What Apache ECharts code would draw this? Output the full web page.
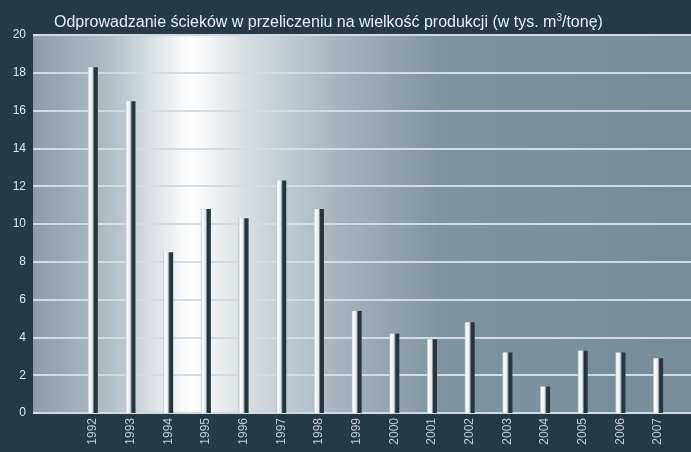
<!DOCTYPE html>
<html><head><meta charset="utf-8">
<script src="https://cdn.jsdelivr.net/npm/echarts@6/dist/echarts.min.js"></script>
<style>html,body{margin:0;padding:0;background:#243a46;}#c{width:691px;height:452px;}</style>
</head><body><div id="c"></div>
<script>
var years = ['1992','1993','1994','1995','1996','1997','1998','1999','2000','2001','2002','2003','2004','2005','2006','2007'];
var values = [18.3,16.5,8.5,10.8,10.3,12.3,10.8,5.4,4.2,3.9,4.8,3.2,1.4,3.3,3.2,2.9];
var yTicks = [0,2,4,6,8,10,12,14,16,18,20];
var title = 'Odprowadzanie ścieków w przeliczeniu na wielkość produkcji (w tys. m{s|3}/tonę)';

var chart = echarts.init(document.getElementById('c'), null, {renderer:'canvas'});
var font = 'Liberation Sans, Arial, sans-serif';
chart.setOption({
  backgroundColor: '#243a46',
  animation: false,
  title: {
    text: title, left: 49, top: 8,
    textStyle: {color:'#e8eef1', fontSize: 16, fontWeight:'normal', fontFamily: font,
      rich: {s: {fontSize: 10, verticalAlign:'top', color:'#e8eef1', padding:[0,0,9,0], fontFamily: font}}}
  },
  grid: [
    {left: 33, right: 0, top: 35, bottom: 39, show: true, borderWidth: 0,
     backgroundColor: new echarts.graphic.LinearGradient(0,0,1,0,[
       {offset:0, color:'#8a9ca8'},
       {offset:0.12, color:'#b2bfc6'},
       {offset:0.24, color:'#ffffff'},
       {offset:0.32, color:'#d8dfe3'},
       {offset:0.46, color:'#a6b5bd'},
       {offset:0.62, color:'#7e94a0'},
       {offset:1, color:'#768d99'}])},
    {left: 74, right: 14, top: 35, bottom: 39}
  ],
  xAxis: [
    {gridIndex: 0, type: 'value', min: 0, max: 1, show: false},
    {gridIndex: 1, type: 'category', data: years,
     axisLine: {show: false}, axisTick: {show: false},
     axisLabel: {rotate: 90, color: '#c3ccd1', fontSize: 12, fontFamily: font, margin: 5}}
  ],
  yAxis: [
    {gridIndex: 0, type: 'value', min: 0, max: 20, interval: 2,
     axisLine: {show: false}, axisTick: {show: false},
     axisLabel: {color: '#e4e9ec', fontSize: 12, fontFamily: font, margin: 7,
       formatter: function(v){ return yTicks.indexOf(v) >= 0 ? String(v) : ''; }},
     splitLine: {show: true, lineStyle: {color: '#d2dce1', width: 2}}},
    {gridIndex: 1, type: 'value', min: 0, max: 20, show: false}
  ],
  series: [{
    type: 'bar', xAxisIndex: 1, yAxisIndex: 1, data: values, barWidth: 10,
    itemStyle: {color: new echarts.graphic.LinearGradient(0,0,1,0,[
      {offset:0, color:'#b4bcc1'},
      {offset:0.15, color:'#ffffff'},
      {offset:0.45, color:'#e4e8ea'},
      {offset:0.56, color:'#7d8a92'},
      {offset:0.66, color:'#22323b'},
      {offset:1, color:'#2a3a43'}])}
  }]
});
</script></body></html>
